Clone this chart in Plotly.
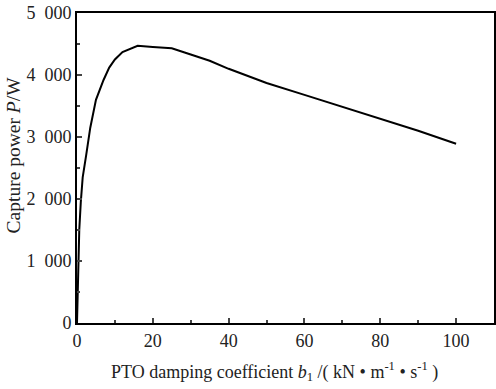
import plotly.graph_objects as go

b1 = [0, 0.3, 0.6, 1.0, 1.5, 2.4, 3.5, 5, 7, 8.5, 10, 12, 14, 16, 20, 25, 30, 35, 40, 50, 60, 70, 80, 90, 100]
power = [0, 900, 1500, 1950, 2350, 2700, 3150, 3600, 3920, 4120, 4250, 4370, 4420, 4470, 4450, 4430, 4330, 4230, 4100, 3870, 3680, 3490, 3300, 3100, 2890]

xticks = [0, 20, 40, 60, 80, 100]
yticks = [0, 1000, 2000, 3000, 4000, 5000]
yticklabels = ["0", "1\u2002000", "2\u2002000", "3\u2002000", "4\u2002000", "5\u2002000"]

font = "Liberation Serif"
fig = go.Figure(go.Scatter(x=b1, y=power, mode="lines", line=dict(color="black", width=2)))
fig.update_layout(
    width=496, height=389, margin=dict(l=77, r=0, t=13, b=66),
    paper_bgcolor="white", plot_bgcolor="white", showlegend=False,
    font=dict(family=font, size=18, color="#222"),
)
fig.update_xaxes(range=[0, 110], tickvals=xticks, ticks="inside", ticklen=5, tickwidth=2,
                 minor=dict(dtick=10, ticks="inside", ticklen=3, tickwidth=2, tick0=0),
                 showline=True, linecolor="black", linewidth=2, mirror=True, showgrid=False, zeroline=False)
fig.update_yaxes(range=[0, 5000], tickvals=yticks, ticktext=yticklabels, ticks="inside", ticklen=5, tickwidth=2,
                 minor=dict(dtick=500, ticks="inside", ticklen=3, tickwidth=2, tick0=0),
                 showline=True, linecolor="black", linewidth=2, mirror=True, showgrid=False, zeroline=False)
fig.add_annotation(text="PTO damping coefficient <i>b</i><sub>1</sub> /( kN • m<sup>-1</sup> • s<sup>-1</sup> )",
                   xref="paper", yref="paper", x=0.4726, y=-0.158, xanchor="center", yanchor="middle",
                   showarrow=False, font=dict(size=18))
fig.add_annotation(text="Capture power <i>P</i>/W", textangle=-90,
                   xref="paper", yref="paper", x=-0.150, y=0.542, xanchor="center", yanchor="middle",
                   showarrow=False, font=dict(size=19.5))
fig.write_html("out.html")
